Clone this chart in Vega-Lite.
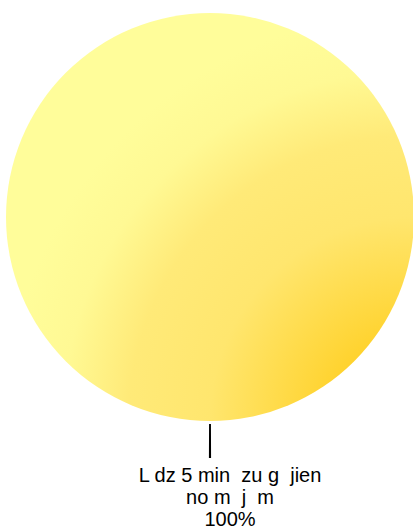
{
  "$schema": "https://vega.github.io/schema/vega-lite/v6.json",
  "width": 406,
  "height": 408,
  "padding": {"left": 7, "top": 13, "right": 0, "bottom": 108},
  "autosize": "none",
  "background": "white",
  "view": {"stroke": null},
  "data": {"values": [{"category": "L dz 5 min  zu g  jien no m  j  m", "value": 100, "label": ["L dz 5 min\u00a0\u00a0zu g\u00a0\u00a0jien", "no m\u00a0\u00a0j\u00a0\u00a0m", "100%"]}]},
  "layer": [
    {
      "mark": {
        "type": "arc",
        "outerRadius": 204,
        "fill": {
          "gradient": "radial",
          "x1": 1, "y1": 1, "r1": 0,
          "x2": 1, "y2": 1, "r2": 1,
          "stops": [
            {"offset": 0.2, "color": "#FFD22C"},
            {"offset": 0.5, "color": "#FFE66E"},
            {"offset": 0.7, "color": "#FFEA78"},
            {"offset": 0.86, "color": "#FFF994"},
            {"offset": 1, "color": "#FFFD9A"}
          ]
        }
      },
      "encoding": {"theta": {"field": "value", "type": "quantitative", "stack": true}}
    },
    {
      "mark": {"type": "arc", "theta": 3.1371, "theta2": 3.1461, "innerRadius": 207, "outerRadius": 241, "fill": "black"},
      "encoding": {}
    },
    {
      "mark": {"type": "text", "theta": 3.14159, "radius": 249, "dx": 20, "baseline": "top", "align": "center", "font": "Liberation Sans", "fontSize": 20, "lineHeight": 22.2, "color": "black"},
      "encoding": {"text": {"field": "label"}}
    }
  ]
}
